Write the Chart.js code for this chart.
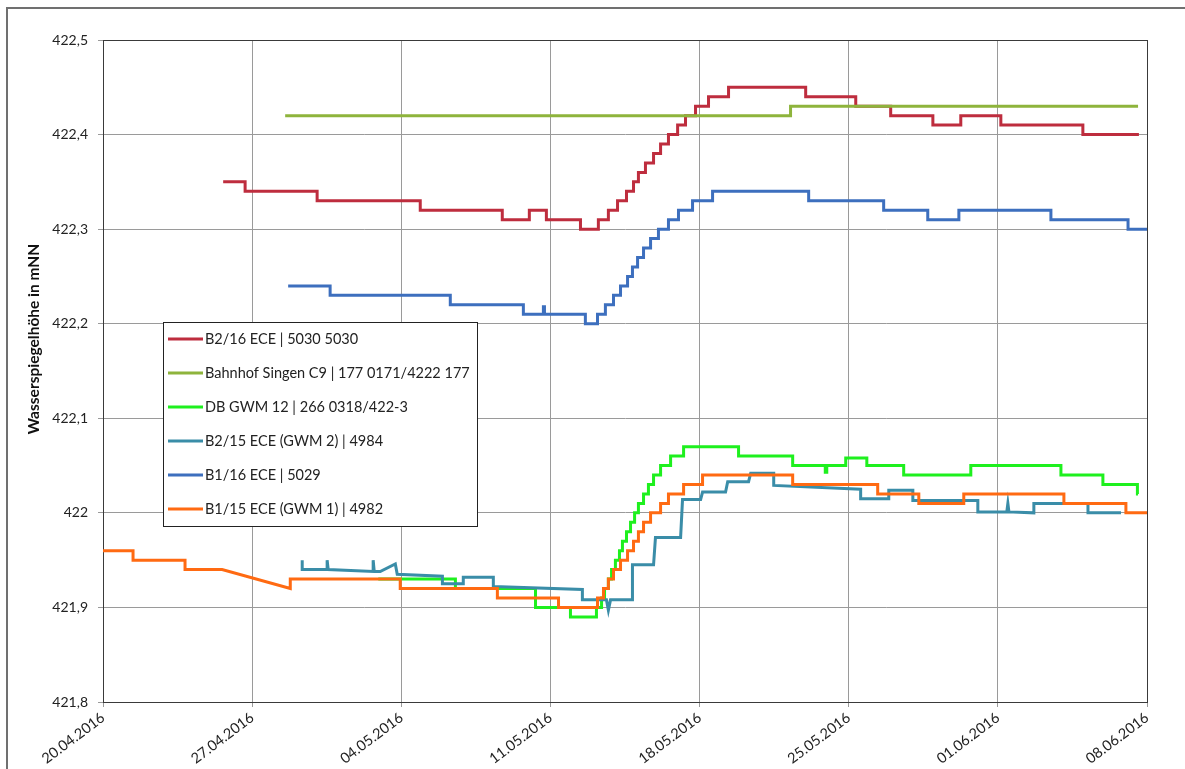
<!DOCTYPE html>
<html>
<head>
<meta charset="utf-8">
<script src="https://cdn.jsdelivr.net/npm/chart.js@4.4.1/dist/chart.umd.min.js"></script>
<style>
  html, body { margin: 0; padding: 0; background: #fff; }
  canvas { display: block; }
</style>
</head>
<body>
<canvas id="myChart" width="1185" height="769"></canvas>
<script>
// x values are days counted from 20.04.2016
var dateLabels = ['20.04.2016', '27.04.2016', '04.05.2016', '11.05.2016', '18.05.2016', '25.05.2016', '01.06.2016', '08.06.2016'];
var levelLabels = ['421,8', '421,9', '422', '422,1', '422,2', '422,3', '422,4', '422,5'];

// stepped series: day where the reading changes, new reading
var b216Days = [5.64, 6.67, 10.05, 14.89, 18.74, 20.01, 20.81, 22.41, 23.25, 23.72, 24.15, 24.57, 24.90, 25.13, 25.46, 25.84, 26.17, 26.54, 26.97, 27.34, 27.81, 28.42, 29.36, 32.98, 35.33, 36.97, 38.95, 40.26, 42.14, 45.99, 48.62];
var b216Values = [422.35, 422.34, 422.33, 422.32, 422.31, 422.32, 422.31, 422.30, 422.31, 422.32, 422.33, 422.34, 422.35, 422.36, 422.37, 422.38, 422.39, 422.40, 422.41, 422.42, 422.43, 422.44, 422.45, 422.44, 422.43, 422.42, 422.41, 422.42, 422.41, 422.40, 422.40];

var singenDays = [8.55, 32.27, 48.58];
var singenValues = [422.42, 422.43, 422.43];

var gwm12Days = [12.92, 16.54, 20.30, 21.94, 23.16, 23.40, 23.54, 23.72, 23.87, 24.05, 24.24, 24.38, 24.57, 24.76, 24.95, 25.13, 25.37, 25.60, 25.84, 26.17, 26.64, 27.25, 29.83, 32.37, 33.90, 33.97, 34.86, 35.85, 37.58, 40.73, 44.96, 46.93, 48.55, 48.58];
var gwm12Values = [421.93, 421.92, 421.90, 421.89, 421.90, 421.91, 421.92, 421.93, 421.94, 421.95, 421.96, 421.97, 421.98, 421.99, 422.00, 422.01, 422.02, 422.03, 422.04, 422.05, 422.06, 422.07, 422.06, 422.05, 422.043, 422.05, 422.058, 422.05, 422.04, 422.05, 422.04, 422.03, 422.02, 422.02];

var b116Days = [8.69, 10.66, 16.30, 19.73, 20.67, 20.72, 22.64, 23.21, 23.58, 23.96, 24.29, 24.62, 24.85, 25.09, 25.37, 25.70, 26.07, 26.54, 27.01, 27.67, 28.61, 33.12, 36.64, 38.71, 40.17, 44.49, 48.11, 49.00];
var b116Values = [422.24, 422.23, 422.22, 422.21, 422.218, 422.21, 422.20, 422.21, 422.22, 422.23, 422.24, 422.25, 422.26, 422.27, 422.28, 422.29, 422.30, 422.31, 422.32, 422.33, 422.34, 422.33, 422.32, 422.31, 422.32, 422.31, 422.30, 422.30];

// logger series: every vertex of the recorded line
var b215Days = [9.35, 9.35, 10.52, 10.52, 10.57, 12.68, 12.68, 12.73, 13.01, 13.72, 13.81, 15.93, 15.93, 16.91, 16.91, 18.32, 18.32, 22.50, 22.50, 23.63, 23.72, 23.82, 24.85, 24.85, 25.84, 25.93, 27.11, 27.20, 28.05, 28.14, 29.22, 29.32, 30.30, 30.40, 31.48, 31.48, 35.56, 35.56, 36.88, 36.88, 38.01, 38.01, 41.06, 41.06, 42.42, 42.47, 42.52, 43.69, 43.69, 46.23, 46.23, 47.78];
var b215Values = [421.95, 421.94, 421.94, 421.95, 421.94, 421.938, 421.95, 421.938, 421.938, 421.946, 421.935, 421.933, 421.925, 421.925, 421.932, 421.932, 421.922, 421.919, 421.908, 421.908, 421.897, 421.908, 421.908, 421.945, 421.945, 421.974, 421.974, 422.014, 422.014, 422.022, 422.022, 422.033, 422.033, 422.042, 422.042, 422.029, 422.025, 422.015, 422.015, 422.024, 422.024, 422.013, 422.013, 422.001, 422.001, 422.01, 422.001, 422.0, 422.01, 422.01, 422.0, 422.0];

var b115Days = [0, 1.41, 1.41, 3.85, 3.85, 5.59, 8.79, 8.79, 13.95, 13.95, 18.51, 18.51, 21.38, 21.38, 23.21, 23.21, 23.49, 23.49, 23.72, 23.72, 23.96, 23.96, 24.29, 24.29, 24.62, 24.62, 24.90, 24.90, 25.13, 25.13, 25.37, 25.37, 25.70, 25.70, 26.17, 26.17, 26.54, 26.54, 27.25, 27.25, 28.14, 28.14, 32.37, 32.37, 36.36, 36.36, 38.29, 38.29, 40.40, 40.40, 45.10, 45.10, 48.01, 48.01, 49.00];
var b115Values = [421.96, 421.96, 421.95, 421.95, 421.94, 421.94, 421.92, 421.93, 421.93, 421.92, 421.92, 421.91, 421.91, 421.90, 421.90, 421.91, 421.91, 421.92, 421.92, 421.93, 421.93, 421.94, 421.94, 421.95, 421.95, 421.96, 421.96, 421.97, 421.97, 421.98, 421.98, 421.99, 421.99, 422.00, 422.00, 422.01, 422.01, 422.02, 422.02, 422.03, 422.03, 422.04, 422.04, 422.03, 422.03, 422.02, 422.02, 422.01, 422.01, 422.02, 422.02, 422.01, 422.01, 422.00, 422.00];

var seriesNames = ['B2/16 ECE | 5030 5030', 'Bahnhof Singen C9 | 177 0171/4222 177', 'DB GWM 12 | 266 0318/422-3', 'B2/15 ECE (GWM 2) | 4984', 'B1/16 ECE | 5029', 'B1/15 ECE (GWM 1) | 4982'];
var seriesColors = ['#be2d3e', '#8eb43c', '#1ef01e', '#3a8da8', '#3d6fbe', '#ff6a12'];

function toPoints(days, values) {
  return days.map(function (d, i) { return { x: d, y: values[i] }; });
}

var seriesData = [
  { pts: toPoints(b216Days, b216Values), stepped: 'before' },
  { pts: toPoints(singenDays, singenValues), stepped: 'before' },
  { pts: toPoints(gwm12Days, gwm12Values), stepped: 'before' },
  { pts: toPoints(b215Days, b215Values), stepped: false },
  { pts: toPoints(b116Days, b116Values), stepped: 'before' },
  { pts: toPoints(b115Days, b115Values), stepped: false }
];

var font = 'Lato, "Open Sans", sans-serif';

// frame, plot border, axis title and the legend box inside the plot
var chartDecor = {
  id: 'chartDecor',
  beforeDatasetsDraw: function (chart) {
    var ctx = chart.ctx, a = chart.chartArea;
    ctx.save();
    ctx.strokeStyle = '#3a3a3a';
    ctx.lineWidth = 1;
    ctx.strokeRect(Math.round(a.left) + 0.5, Math.round(a.top) + 0.5, Math.round(a.right - a.left), Math.round(a.bottom - a.top));
    ctx.restore();
  },
  afterDraw: function (chart) {
    var ctx = chart.ctx;
    ctx.save();
    ctx.strokeStyle = '#707070';
    ctx.lineWidth = 2;
    ctx.strokeRect(7, 8, 1200, 800);

    ctx.translate(34, 339);
    ctx.rotate(-Math.PI / 2);
    ctx.font = 'bold 15.5px ' + font;
    ctx.fillStyle = '#111';
    ctx.textAlign = 'center';
    ctx.textBaseline = 'middle';
    ctx.fillText('Wasserspiegelhöhe in mNN', 0, 0);
    ctx.restore();

    ctx.save();
    ctx.fillStyle = '#fff';
    ctx.fillRect(163, 322, 314, 204);
    ctx.strokeStyle = '#222';
    ctx.lineWidth = 1;
    ctx.strokeRect(163.5, 322.5, 314, 204);
    ctx.font = '14.5px ' + font;
    ctx.textBaseline = 'middle';
    chart.data.datasets.forEach(function (ds, i) {
      var y = 339 + i * 34;
      ctx.strokeStyle = ds.borderColor;
      ctx.lineWidth = 3;
      ctx.beginPath();
      ctx.moveTo(168, y);
      ctx.lineTo(203, y);
      ctx.stroke();
      ctx.fillStyle = '#222';
      ctx.fillText(ds.label, 205, y);
    });
    ctx.restore();
  }
};

var ctx = document.getElementById('myChart').getContext('2d');
var myChart = new Chart(ctx, {
  type: 'line',
  data: {
    datasets: seriesData.map(function (s, i) {
      return {
        label: seriesNames[i],
        data: s.pts,
        borderColor: seriesColors[i],
        backgroundColor: seriesColors[i],
        borderWidth: 3,
        pointRadius: 0,
        stepped: s.stepped,
        fill: false,
        order: 5 - i
      };
    })
  },
  options: {
    responsive: false,
    animation: false,
    maintainAspectRatio: false,
    layout: { padding: { top: 40, right: 38, left: 0, bottom: 0 } },
    plugins: { legend: { display: false }, tooltip: { enabled: false } },
    scales: {
      x: {
        type: 'linear',
        min: 0,
        max: 49,
        afterFit: function (s) { s.height = 67; },
        ticks: {
          stepSize: 7,
          autoSkip: false,
          minRotation: 37,
          maxRotation: 37,
          padding: 2,
          color: '#222',
          font: { family: font, size: 14.5 },
          callback: function (v) { return dateLabels[Math.round(v / 7)]; }
        },
        grid: { color: '#9a9a9a', tickLength: 5 },
        border: { color: '#3a3a3a' }
      },
      y: {
        min: 421.8,
        max: 422.5,
        afterFit: function (s) { s.width = 103; },
        ticks: {
          stepSize: 0.1,
          padding: 10,
          color: '#222',
          font: { family: font, size: 14 },
          callback: function (v) { return levelLabels[Math.round((v - 421.8) * 10)]; }
        },
        grid: { color: '#9a9a9a', tickLength: 5 },
        border: { color: '#3a3a3a' }
      }
    }
  },
  plugins: [chartDecor]
});
</script>
</body>
</html>
